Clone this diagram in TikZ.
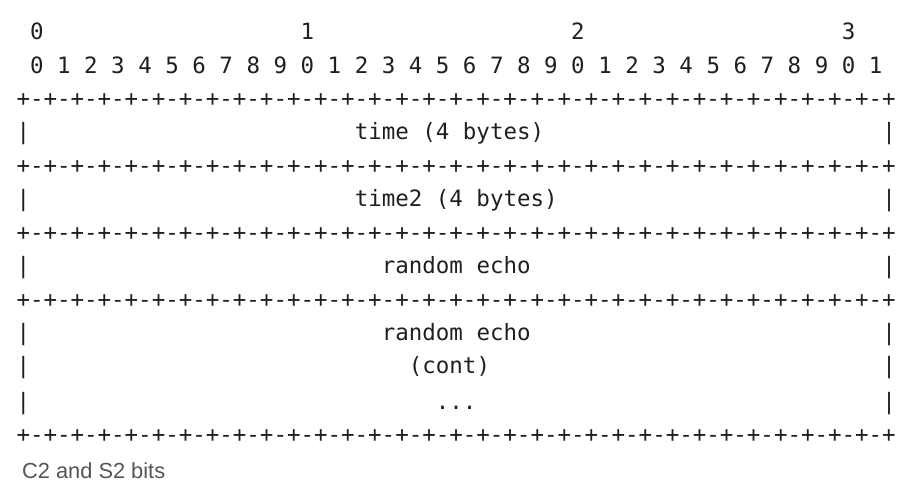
\documentclass[tikz,border=0pt]{standalone}
\usepackage{fontspec}
\newfontfamily\monof{DejaVu Sans Mono}
\newfontfamily\capf{Liberation Sans}
\definecolor{txt}{HTML}{1F1F1F}
\definecolor{cap}{HTML}{555555}
\begin{document}
\begin{tikzpicture}[x=1pt,y=1pt,
  mono/.style={anchor=base west,inner sep=0pt,outer sep=0pt,text=txt,font=\monof\fontsize{22.47}{27}\selectfont},
  captxt/.style={anchor=base west,inner sep=0pt,text=cap,font=\capf\fontsize{21.8}{26}\selectfont}]
\useasboundingbox (0,0) rectangle (910,-496);
\def\cw{13.53}
\def\xo{16.5}
% header digits
\node[mono] (h0) at (\xo+1*\cw,-39.3) {0};
\node[mono] (h1) at (\xo+21*\cw,-39.3) {1};
\node[mono] (h2) at (\xo+41*\cw,-39.3) {2};
\node[mono] (h3) at (\xo+61*\cw,-39.3) {3};
\foreach \i in {0,...,31}{
  \pgfmathtruncatemacro{\d}{mod(\i,10)}
  \node[mono] (b\i) at (\xo+2*\i*\cw+\cw,-73.3) {\d};
}
% separator lines
\foreach \r/\y in {1/106.3,2/173,3/240,4/307,5/442}{
  \node[mono] (sep\r) at (\xo,-\y) {+-+-+-+-+-+-+-+-+-+-+-+-+-+-+-+-+-+-+-+-+-+-+-+-+-+-+-+-+-+-+-+-+};
}
% vertical bars
\foreach \r/\y in {a/139.5,b/206.5,c/273.5,d/340,e/373.5,f/409}{
  \node[mono] (l\r) at (\xo,-\y) {|};
  \node[mono] (r\r) at (\xo+64*\cw,-\y) {|};
}
% field labels
\node[mono] (t1) at (\xo+25*\cw,-139.5) {time (4 bytes)};
\node[mono] (t2) at (\xo+25*\cw,-206.5) {time2 (4 bytes)};
\node[mono] (t3) at (\xo+27*\cw,-273.5) {random echo};
\node[mono] (t4) at (\xo+27*\cw,-340) {random echo};
\node[mono] (t5) at (\xo+29*\cw,-373.5) {(cont)};
\node[mono] (t6) at (\xo+31*\cw,-409) {...};
% caption
\node[captxt] (caption) at (22,-478) {C2 and S2 bits};
\end{tikzpicture}
\end{document}
